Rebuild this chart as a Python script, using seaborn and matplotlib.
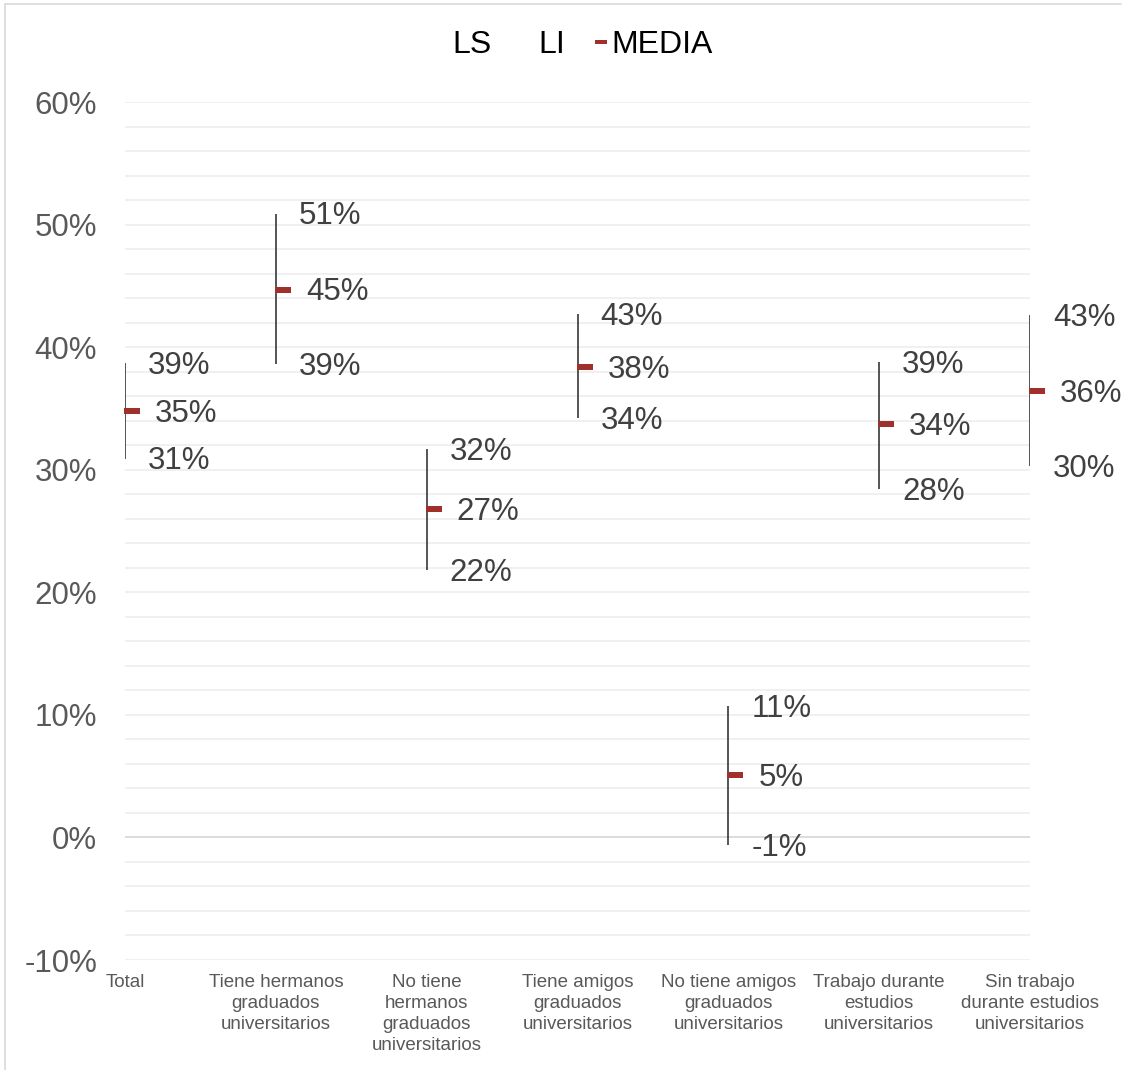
import numpy as np
import matplotlib
matplotlib.use('Agg')
import matplotlib.pyplot as plt
from matplotlib.path import Path
from matplotlib.lines import Line2D
import seaborn as sns
import pandas as pd

# datos del gráfico (porcentajes)
categorias = ['Total',
              'Tiene hermanos\ngraduados\nuniversitarios',
              'No tiene\nhermanos\ngraduados\nuniversitarios',
              'Tiene amigos\ngraduados\nuniversitarios',
              'No tiene amigos\ngraduados\nuniversitarios',
              'Trabajo durante\nestudios\nuniversitarios',
              'Sin trabajo\ndurante estudios\nuniversitarios']
ls = [38.7, 50.9, 31.7, 42.7, 10.7, 38.8, 42.6]
li = [30.9, 38.6, 21.8, 34.2, -0.6, 28.4, 30.3]
media = [34.8, 44.7, 26.8, 38.4, 5.1, 33.7, 36.4]
yticks = [-10, 0, 10, 20, 30, 40, 50, 60]

df = pd.DataFrame({'cat': categorias, 'ls': ls, 'li': li, 'media': media})
df['x'] = np.arange(len(df))

sns.set_style('white')
plt.rcParams['font.family'] = ['Liberation Sans', 'DejaVu Sans']

W, H, DPI = 1122, 1070, 100
fig = plt.figure(figsize=(W / DPI, H / DPI), dpi=DPI)
ax = fig.add_axes([125 / W, 1 - 960 / H, 905 / W, 858 / H])

# rejilla cada 2%
for g in np.arange(-10, 61, 2):
    col = '#D9D9D9' if g == 0 else '#EFEFEF'
    ax.axhline(g, color=col, lw=1.3, zorder=0)

# línea LS-LI
ax.vlines(df['x'], df['li'], df['ls'], color='#262626', lw=1.1, zorder=2)

# marcador de la media (guion que sale a la derecha de la línea)
dash = Path([(-0.05, -0.17), (1, -0.17), (1, 0.17), (-0.05, 0.17), (-0.05, -0.17)],
            [Path.MOVETO, Path.LINETO, Path.LINETO, Path.LINETO, Path.CLOSEPOLY])
sns.scatterplot(data=df, x='x', y='media', marker=dash, s=470, color='#A0302C',
                linewidth=0, ax=ax, zorder=3, legend=False, clip_on=False)

# etiquetas de datos
off_ls = 23 / DPI * 72
off_m = 30 / DPI * 72
for _, r in df.iterrows():
    for val, off in [(r['ls'], off_ls), (r['media'], off_m), (r['li'], off_ls)]:
        ax.annotate('{:.0f}%'.format(val), (r['x'], val), xytext=(off, -2),
                    textcoords='offset points', ha='left', va='center',
                    fontsize=22.5, color='#404040')

ax.set_xlim(0, 6)
ax.set_ylim(-10, 60)
ax.set_yticks(yticks)
ax.set_yticklabels(['{}%'.format(t) for t in yticks], fontsize=22.5, color='#595959')
ax.set_xticks(df['x'])
ax.set_xticklabels(df['cat'], fontsize=13.5, color='#595959', linespacing=1.3)
ax.tick_params(axis='y', length=0, pad=20)
ax.tick_params(axis='x', length=0, pad=10)
ax.set_xlabel('')
ax.set_ylabel('')
for s in ax.spines.values():
    s.set_visible(False)

# leyenda
handles = [Line2D([], [], linestyle='none'),
           Line2D([], [], linestyle='none'),
           Line2D([], [], linestyle='none', marker='s', markersize=4,
                  markerfacecolor='#A0302C', markeredgewidth=0)]
leg = fig.legend(handles, ['LS', 'LI', 'MEDIA'], loc='center',
                 bbox_to_anchor=(573 / W, 1 - 45 / H), ncol=3, frameon=False,
                 fontsize=23, handlelength=0.55, handletextpad=0.05, columnspacing=0.85,
                 labelcolor='black')
leg.legend_handles[2].set_marker(Path([(-1, -0.3), (1, -0.3), (1, 0.3), (-1, 0.3), (-1, -0.3)],
                                      [Path.MOVETO, Path.LINETO, Path.LINETO, Path.LINETO,
                                       Path.CLOSEPOLY]))
leg.legend_handles[2].set_markersize(8)

# borde del área del gráfico
fig.add_artist(Line2D([5 / W, 1121 / W], [1 - 4 / H, 1 - 4 / H], color='#D9D9D9', lw=1.2))
fig.add_artist(Line2D([5 / W, 5 / W], [1 - 4 / H, 0], color='#D9D9D9', lw=1.2))

fig.savefig('out.png', dpi=DPI)
